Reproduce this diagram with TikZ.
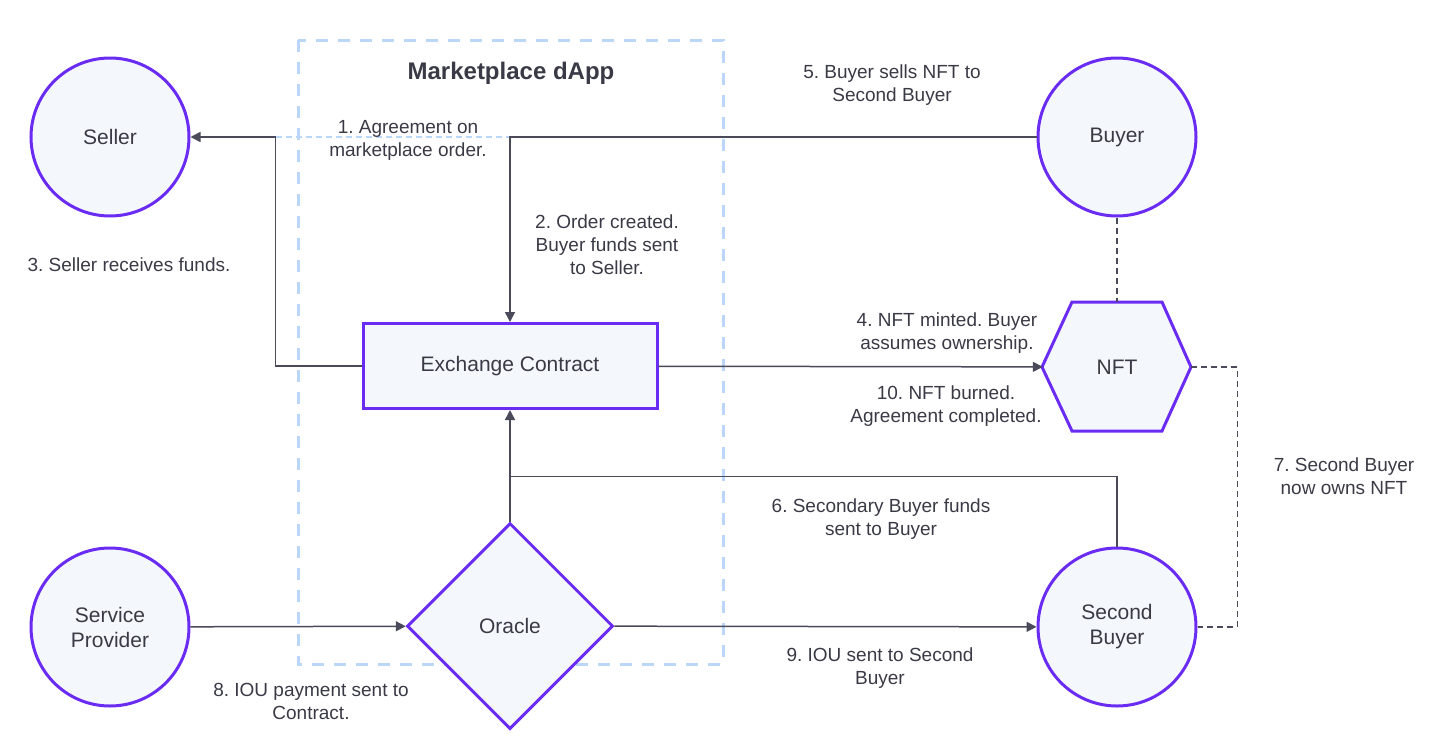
\documentclass[tikz,border=0pt]{standalone}
\usepackage{fontspec}
\setmainfont{Liberation Sans}
\usetikzlibrary{shapes.geometric,arrows.meta,calc}

\definecolor{nodeborder}{HTML}{6A2CF2}
\definecolor{nodefill}{HTML}{F4F8FC}
\definecolor{linegray}{HTML}{4A4A5A}
\definecolor{textgray}{HTML}{3A3A46}
\definecolor{dappblue}{HTML}{BAD6F8}

\begin{document}
\frenchspacing
\begin{tikzpicture}
    [   x=1pt,y=-1pt,
        >={Triangle[length=10pt,width=10pt]},
        every node/.style={text=textgray},
        cnode/.style={draw=nodeborder,fill=nodefill,line width=3pt,circle,minimum size=158pt,inner sep=0pt,align=center,font=\fontsize{21}{25}\selectfont},
        boxnode/.style={draw=nodeborder,fill=nodefill,line width=3pt,minimum width=294pt,minimum height=85pt,inner sep=0pt,font=\fontsize{21}{25}\selectfont},
        oraclenode/.style={draw=nodeborder,fill=nodefill,line width=3pt,diamond,aspect=1,minimum size=206pt,inner sep=0pt,font=\fontsize{21}{25}\selectfont},
        hexnode/.style={minimum width=148pt,minimum height=129pt,inner sep=0pt,font=\fontsize{21}{25}\selectfont},
        flow/.style={draw=linegray,line width=1.5pt},
        own/.style={draw=linegray,line width=1.3pt,dash pattern=on 6pt off 4pt},
        lbl/.style={align=center,font=\fontsize{19}{23}\selectfont},
    ]
    \useasboundingbox (0,0) rectangle (1452,742);
    % marketplace dApp
    \draw[dappblue,line width=3pt,dash pattern=on 12pt off 10pt] (298,40) rectangle (723,664);
    \node[font=\bfseries\fontsize{24}{28}\selectfont] (dapp) at (511,73) {Marketplace dApp};

    \node[cnode] (seller) at (110,137) {Seller};
    \node[cnode] (buyer) at (1117,137) {Buyer};
    \node[cnode] (provider) at (110,627) {Service\\Provider};
    \node[cnode] (secbuyer) at (1117,627) {Second\\Buyer};
    \node[boxnode] (contract) at (510,366) {Exchange Contract};
    \node[oraclenode] (oracle) at (510,626) {Oracle};
    \draw[draw=nodeborder,fill=nodefill,line width=3pt]
        (1042,367) -- (1072,302) -- (1162,302) -- (1191,367) -- (1162,431) -- (1072,431) -- cycle;
    \node[hexnode] (nft) at (1117,367) {NFT};

    % connectors
    \coordinate (sc) at ($(contract.west)+(-86,0)$);
    \draw[dappblue,line width=1.5pt,dash pattern=on 6pt off 4pt] (sc |- seller) -- (contract.north |- seller);
    \draw[flow,->] (buyer) -| (contract);
    \draw[flow,->] (contract.west) -- (sc) |- (seller);
    \draw[flow,->] (contract) -- (nft);
    \draw[own] (buyer) -- (nft);
    \draw[own] (nft.east) -- ++(46,0) |- (secbuyer);
    \draw[flow,->] (oracle) -- (contract);
    \draw[flow] (secbuyer) |- ($(oracle.north)+(0,-45)$);
    \draw[flow,->] (provider) -- (oracle);
    \draw[flow,->] (oracle) -- (secbuyer);

    % labels
    \node[lbl] (l1) at (408,140) {1. Agreement on\\marketplace order.};
    \node[lbl] (l2) at (607,245) {2. Order created.\\Buyer funds sent\\to Seller.};
    \node[lbl] (l3) at (129,265) {3. Seller receives funds.};
    \node[lbl] (l4) at (947,333) {4. NFT minted. Buyer\\assumes ownership.};
    \node[lbl] (l5) at (892,85) {5. Buyer sells NFT to\\Second Buyer};
    \node[lbl] (l6) at (881,519) {6. Secondary Buyer funds\\sent to Buyer};
    \node[lbl] (l7) at (1344,476) {7. Second Buyer\\now owns NFT};
    \node[lbl] (l8) at (311,701) {8. IOU payment sent to\\Contract.};
    \node[lbl] (l9) at (880,668) {9. IOU sent to Second\\Buyer};
    \node[lbl] (l10) at (946,406) {10. NFT burned.\\Agreement completed.};
\end{tikzpicture}
\end{document}
